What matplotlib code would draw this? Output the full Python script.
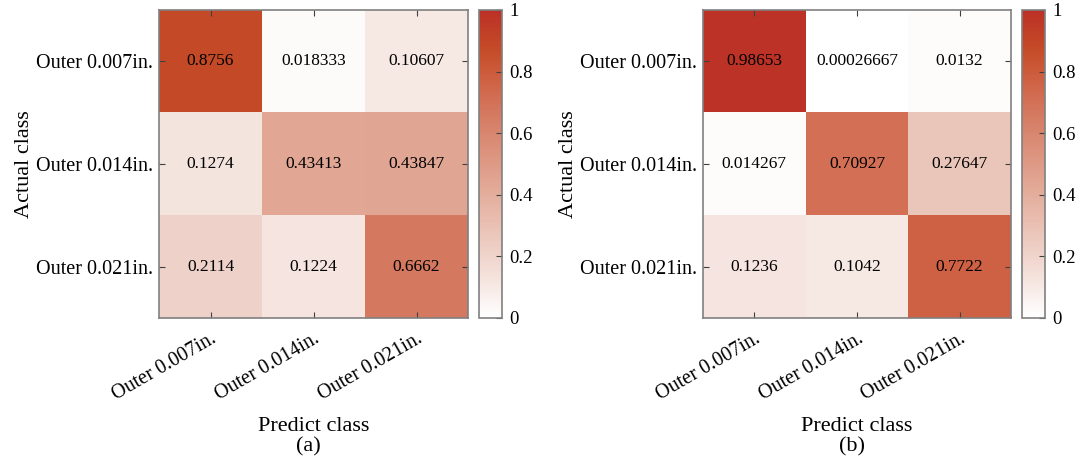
import matplotlib.pyplot as plt
import numpy as np
from matplotlib.colors import LinearSegmentedColormap

plt.rcParams['font.family'] = ['Liberation Serif', 'DejaVu Serif']

# class names and confusion matrices (rows: actual, cols: predicted)
classes = ['Outer 0.007in.', 'Outer 0.014in.', 'Outer 0.021in.']
cm_a = [[0.8756, 0.018333, 0.10607],
        [0.1274, 0.43413, 0.43847],
        [0.2114, 0.1224, 0.6662]]
cm_b = [[0.98653, 0.00026667, 0.0132],
        [0.014267, 0.70927, 0.27647],
        [0.1236, 0.1042, 0.7722]]
cm_labels_a = [['0.8756', '0.018333', '0.10607'],
               ['0.1274', '0.43413', '0.43847'],
               ['0.2114', '0.1224', '0.6662']]
cm_labels_b = [['0.98653', '0.00026667', '0.0132'],
               ['0.014267', '0.70927', '0.27647'],
               ['0.1236', '0.1042', '0.7722']]
panel_tags = ['(a)', '(b)']
cbar_ticks = [0, 0.2, 0.4, 0.6, 0.8, 1]
cbar_ticklabels = ['0', '0.2', '0.4', '0.6', '0.8', '1']

# white -> red colormap
stops = [(0.0, (255, 255, 255)), (0.2, (239, 212, 203)), (0.43, (226, 168, 150)),
         (0.67, (212, 120, 95)), (0.77, (207, 98, 68)), (0.87, (197, 76, 40)),
         (1.0, (188, 48, 38))]
cmap = LinearSegmentedColormap.from_list(
    'wr', [(p, tuple(c / 255 for c in rgb)) for p, rgb in stops])

W, H = 1078, 459
fig = plt.figure(figsize=(W / 100, H / 100), dpi=100)

def box(x0, y0, x1, y1):
    # pixel box -> figure fraction
    return [x0 / W, 1 - y1 / H, (x1 - x0) / W, (y1 - y0) / H]

edge = '#808080'
panels = [(cm_a, cm_labels_a, 159, 468, 479, 502),
          (cm_b, cm_labels_b, 703, 1011, 1022, 1045)]

for k, (cm, labs, x0, x1, c0, c1) in enumerate(panels):
    ax = fig.add_axes(box(x0, 10, x1, 318))
    data = np.array(cm)
    im = ax.imshow(data, cmap=cmap, vmin=0, vmax=1, aspect='auto')
    for i in range(3):
        for j in range(3):
            ax.text(j, i, labs[i][j], ha='center', va='center', fontsize=12.5)
    ax.set_xticks(range(3))
    ax.set_yticks(range(3))
    ax.set_xticklabels(classes, rotation=30, ha='right', rotation_mode='anchor',
                       fontsize=14.5)
    ax.set_yticklabels(classes, fontsize=14.5)
    ax.tick_params(direction='in', length=4, width=0.8, color='#404040',
                   top=True, right=True, pad=4)
    ax.tick_params(axis='x', pad=8)
    for s in ax.spines.values():
        s.set_color(edge)
        s.set_linewidth(1.2)
    ax.set_xlabel('Predict class', fontsize=16, labelpad=9)
    ax.set_ylabel('Actual class', fontsize=16, labelpad=2)

    cax = fig.add_axes(box(c0, 10, c1, 318))
    cb = fig.colorbar(im, cax=cax)
    cb.set_ticks(cbar_ticks)
    cb.set_ticklabels(cbar_ticklabels)
    cb.ax.tick_params(direction='in', length=4, width=0.8, color='#404040',
                      labelsize=13.5, pad=5)
    cb.outline.set_edgecolor(edge)
    cb.outline.set_linewidth(1.2)

    fig.text(((x0 + x1) / 2 - 5) / W, 1 - 447 / H, panel_tags[k],
             ha='center', va='center', fontsize=16)

fig.savefig('out.png', dpi=100)
